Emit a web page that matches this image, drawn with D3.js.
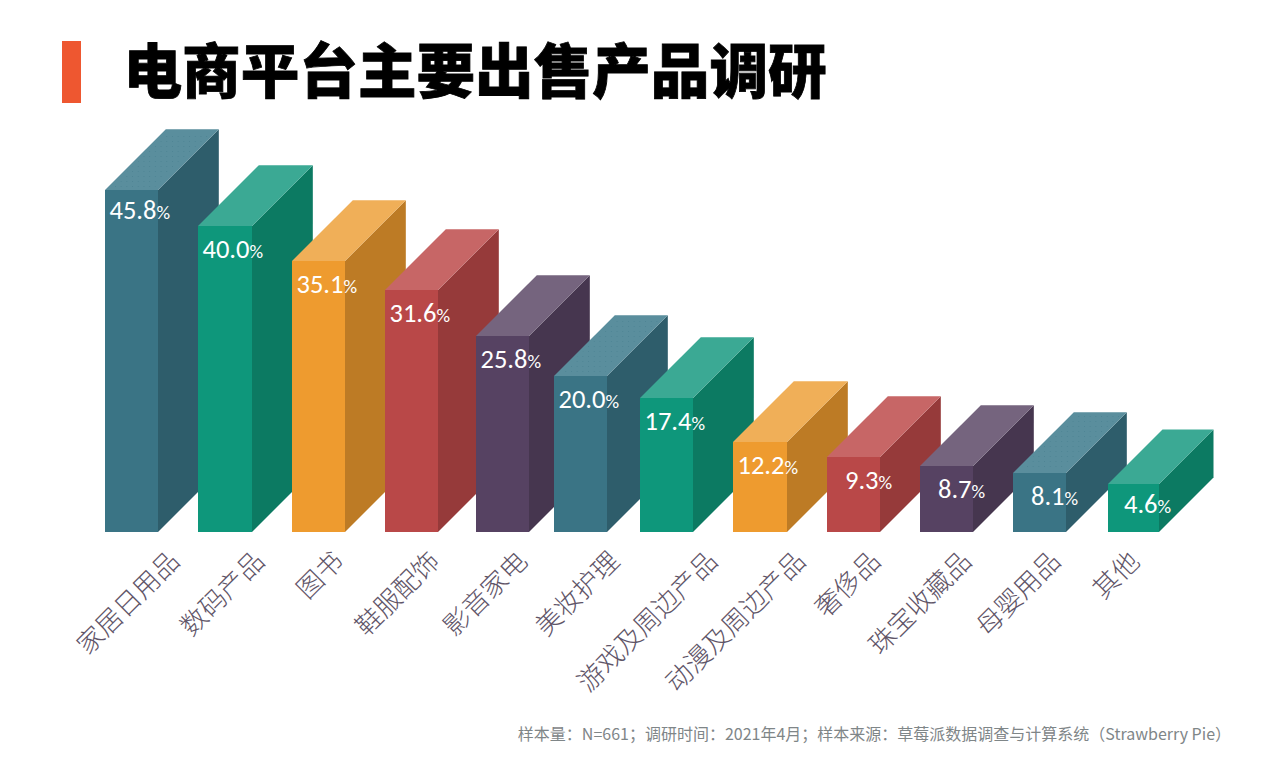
<!DOCTYPE html>
<html><head><meta charset="utf-8">
<script src="https://cdn.jsdelivr.net/npm/d3@7/dist/d3.min.js"></script>
<style>html,body{margin:0;background:#fff}svg{display:block}</style></head>
<body><svg id="c" width="1279" height="777"></svg>
<script>
const categories=["家居日用品","数码产品","图书","鞋服配饰","影音家电","美妆护理","游戏及周边产品","动漫及周边产品","奢侈品","珠宝收藏品","母婴用品","其他"];
const labelValues=[45.8,40.0,35.1,31.6,25.8,20.0,17.4,12.2,9.3,8.7,8.1,4.6];
// heights as drawn in the picture (the original is hand-drawn, not strictly proportional)
const drawnValues=[45.6,40.8,36.1,32.3,26.1,20.8,17.9,12.0,10.0,8.8,7.9,6.4];
const front=["#3a7485","#0e977b","#ee9b2f","#b94848","#564262","#3a7485","#0e977b","#ee9b2f","#b94848","#564262","#3a7485","#0e977b"];
const side=["#2e5d6b","#0c7a62","#bd7b25","#963a3a","#46364f","#2e5d6b","#0c7a62","#bd7b25","#963a3a","#46364f","#2e5d6b","#0c7a62"];
const topc=["#5a8e9d","#3ba994","#f0af58","#c76666","#75647e","#5a8e9d","#3ba994","#f0af58","#c76666","#75647e","#5a8e9d","#3ba994"];
const title="电商平台主要出售产品调研";
const note="样本量：N=661；调研时间：2021年4月；样本来源：草莓派数据调查与计算系统（Strawberry Pie）";

const svg=d3.select("#c");
const x0=d3.scaleLinear().domain([0,3,4,5,6,10,11]).range([105,385,476,554,640,1013,1108]);
const y0=d3.scaleLinear().domain([0,50]).range([532,157]);
const x=i=>Math.round(x0(i)), y=v=>Math.round(y0(v));
const R=i=>i===11?1159:Math.round(x0(i)+53.4), D=i=>i===11?54.5:60.8;
// hand placement of the rotated category labels, as in the picture
const labelEnd=[77,69,54,57,54,68,80,75,56,54,50,34];

const pat=svg.append("defs").append("pattern").attr("id","dots").attr("width",5.7).attr("height",5)
 .attr("patternUnits","userSpaceOnUse");
pat.append("rect").attr("width",1).attr("height",1).attr("x",1).attr("y",1).attr("fill","#4e8494");

svg.append("rect").attr("x",62).attr("y",41).attr("width",19).attr("height",62).attr("fill","#ee5730");
svg.append("text").attr("x",123.5).attr("y",93).text(title)
 .attr("font-family","'Noto Sans CJK SC'").attr("font-weight",900).attr("font-size",58.6)
 .attr("fill","#000").attr("stroke","#000").attr("stroke-width",0.8);

const g=svg.selectAll("g.b").data(categories).join("g").attr("class","b");
const path=(pts)=>d3.line()(pts)+"Z";
const topPts=(i,ins)=>{const l=x(i),r=R(i),t=y(drawnValues[i]),o=D(i);
  return [[l+ins*2,t-ins],[l+o+ins,t-o+ins],[r+o-ins*2,t-o+ins],[r-ins,t-ins]];};
g.append("path").attr("fill",(d,i)=>side[i]).attr("d",(d,i)=>{
  const r=R(i),t=y(drawnValues[i]),b=y(0),o=D(i);
  return path([[r,t],[r+o,t-o],[r+o,b-o],[r,b]]);});
g.append("path").attr("fill",(d,i)=>topc[i]).attr("d",(d,i)=>path(topPts(i,0)));
g.each(function(d,i){ if(front[i]==="#3a7485"){
  d3.select(this).append("path").attr("fill","url(#dots)").attr("d",path(topPts(i,3)));
}});
g.append("rect").attr("x",(d,i)=>x(i)).attr("y",(d,i)=>y(drawnValues[i])).attr("width",(d,i)=>R(i)-x(i))
 .attr("height",(d,i)=>y(0)-y(drawnValues[i])).attr("fill",(d,i)=>front[i]).attr("shape-rendering","crispEdges");

const lab=g.append("text").attr("fill","#fff").attr("font-family","Carlito,Lato,'Open Sans'")
 .attr("x",(d,i)=>x(i)+(labelValues[i]>=10?4.5:(i===11?16:18)))
 .attr("y",(d,i)=>y(drawnValues[i])+(i===0||i===11?29:32));
lab.append("tspan").attr("font-size",26.5).text((d,i)=>labelValues[i].toFixed(1));
lab.append("tspan").attr("font-size",19).text("%");

g.append("text").text(d=>d).attr("text-anchor","end").attr("font-family","'Noto Sans CJK SC'").attr("font-weight",300)
 .attr("font-size",26.3).attr("fill","#5f5568")
 .attr("transform",(d,i)=>`translate(${x(i)+labelEnd[i]-1},563) rotate(-45)`);

svg.append("text").attr("x",1231).attr("y",740).attr("text-anchor","end").text(note)
 .attr("font-family","'Noto Sans CJK SC'").attr("font-size",16).attr("fill","#7f8688");
</script></body></html>
